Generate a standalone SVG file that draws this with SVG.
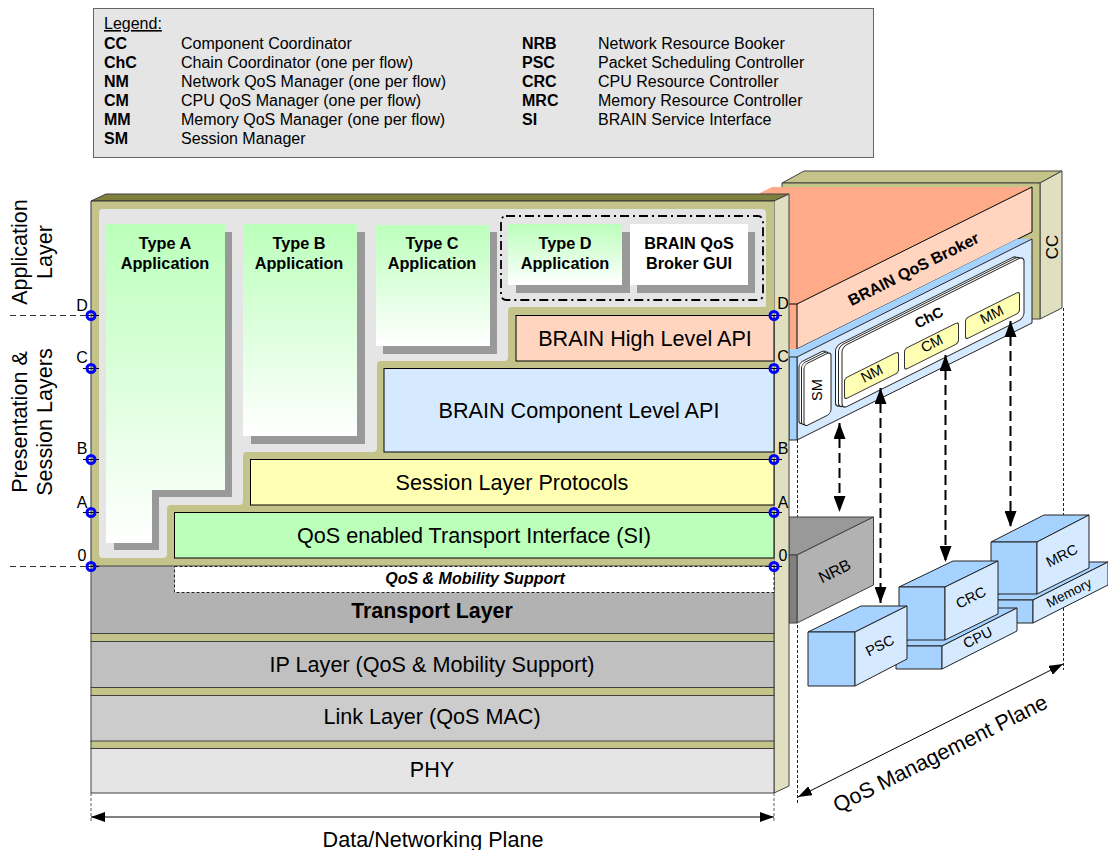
<svg xmlns="http://www.w3.org/2000/svg" width="1108" height="850" viewBox="0 0 1108 850">
<style>
text{font-family:"Liberation Sans",Arial,sans-serif;fill:#000;text-anchor:middle}
.l{text-anchor:start;font-size:16px}
.b{font-weight:bold}
.big{font-size:21.6px}
.ap{font-size:16.3px;font-weight:bold}
.s{font-size:14.5px}
.k{stroke:#000;stroke-width:1}
.g{stroke:#404040;stroke-width:1}
.ol{fill:#c4c48a}
.bl{fill:#a6d2ff;stroke:#222;stroke-width:1}
.bf{fill:#d6eaff;stroke:#222;stroke-width:1}
.sh{fill:#999}
.pt{fill:none;stroke:#00f;stroke-width:3}
.dash{fill:none;stroke:#000;stroke-width:2;stroke-dasharray:10 5}
.dot{fill:none;stroke:#222;stroke-width:1;stroke-dasharray:3 2}
.gd{fill:none;stroke:#777;stroke-width:1.2;stroke-dasharray:3 2}
.pill{fill:#ffffb3;stroke:#333;stroke-width:1}
.card{fill:#fff;stroke:#222;stroke-width:1}
</style>
<defs>
<linearGradient id="gA" x1="0" y1="0" x2="0" y2="1"><stop offset="0" stop-color="#bbffbb"/><stop offset="1" stop-color="#fff"/></linearGradient>
<marker id="hd" markerUnits="userSpaceOnUse" viewBox="0 0 16 12" refX="16" refY="6" markerWidth="16" markerHeight="12" orient="auto-start-reverse"><path d="M0 0L16 6L0 12z" fill="#000"/></marker>
<marker id="hs" markerUnits="userSpaceOnUse" viewBox="0 0 14 10" refX="14" refY="5" markerWidth="14" markerHeight="10" orient="auto-start-reverse"><path d="M0 0L14 5L0 10z" fill="#000"/></marker>
</defs>

<g id="legend">
<rect x="93.500" y="8.500" width="780" height="149" fill="#e5e5e5" stroke="#666"/>
<text class="l" x="104" y="29" text-decoration="underline">Legend:</text>
<text class="l b" x="104" y="49">CC</text><text class="l" x="181" y="49">Component Coordinator</text>
<text class="l b" x="104" y="68">ChC</text><text class="l" x="181" y="68">Chain Coordinator (one per flow)</text>
<text class="l b" x="104" y="87">NM</text><text class="l" x="181" y="87">Network QoS Manager (one per flow)</text>
<text class="l b" x="104" y="106">CM</text><text class="l" x="181" y="106">CPU QoS Manager (one per flow)</text>
<text class="l b" x="104" y="125">MM</text><text class="l" x="181" y="125">Memory QoS Manager (one per flow)</text>
<text class="l b" x="104" y="144">SM</text><text class="l" x="181" y="144">Session Manager</text>
<text class="l b" x="522" y="49">NRB</text><text class="l" x="598" y="49">Network Resource Booker</text>
<text class="l b" x="522" y="68">PSC</text><text class="l" x="598" y="68">Packet Scheduling Controller</text>
<text class="l b" x="522" y="87">CRC</text><text class="l" x="598" y="87">CPU Resource Controller</text>
<text class="l b" x="522" y="106">MRC</text><text class="l" x="598" y="106">Memory Resource Controller</text>
<text class="l b" x="522" y="125">SI</text><text class="l" x="598" y="125">BRAIN Service Interface</text>
</g>

<g id="guides">
<path class="dot" d="M797.500 440V803M1063.500 308V670"/>
</g>

<g id="cc">
<polygon class="g" points="782,183 804,171 1062,171 1040,183" fill="#c4c48a"/>
<polygon class="g" points="1040,183 1062,171 1062,308 1040,319" fill="#e0e0c0"/>
<polygon class="g ol" points="782,183 1040,183 1040,319 1030,319 1030,240 1010,240 1010,190 782,190"/>
<text transform="translate(1058,247) rotate(-90)" style="font-size:17px">CC</text>
</g>

<g id="broker">
<polygon points="760,193 772,187 1032,187 797,304 797,349 760,349" fill="#ffaa88"/>
<polygon class="k" points="797,304 1032,187 1032,232 797,349" fill="#ffd5c0"/>
<path class="k" d="M789 304H797" fill="none"/>
<text class="b" transform="translate(916,274) rotate(-26.57)" style="font-size:16px">BRAIN QoS Broker</text>
</g>

<g id="component-plane">
<polygon points="789,349 797,349 1017,239 1032,239 797,357 789,357" fill="#a6d2ff"/>
<polygon class="bf" points="797,357 1032,239 1032,323 797,440"/>
<polygon class="bl" points="789,357 797,357 797,440 789,440"/>
</g>

<g id="sm">
<rect class="card" transform="matrix(1,-0.5,0,1,799,363)" width="27" height="62" rx="4"/>
<rect class="card" transform="matrix(1,-0.5,0,1,801.500,364)" width="27" height="62" rx="4"/>
<rect class="card" transform="matrix(1,-0.5,0,1,804,365)" width="27" height="62" rx="4"/>
<text class="s" transform="translate(822,390) rotate(-90)">SM</text>
</g>

<g id="chc">
<rect class="card" transform="matrix(1,-0.5,0,1,835.500,346)" width="182" height="62" rx="5"/>
<rect class="card" transform="matrix(1,-0.5,0,1,838.500,346.500)" width="182" height="62" rx="5"/>
<rect class="card" transform="matrix(1,-0.5,0,1,842,347)" width="182" height="62" rx="5"/>
<text class="s b" transform="translate(931,322) rotate(-26.57)">ChC</text>
</g>
<g id="nm"><rect class="pill" transform="matrix(1,-0.5,0,1,844.500,378.500)" width="54" height="21" rx="3"/><text class="s" transform="translate(874,378) rotate(-26.57)">NM</text></g>
<g id="cm"><rect class="pill" transform="matrix(1,-0.5,0,1,904.500,349)" width="54" height="21" rx="3"/><text class="s" transform="translate(934,348) rotate(-26.57)">CM</text></g>
<g id="mm"><rect class="pill" transform="matrix(1,-0.5,0,1,965.500,318.500)" width="54" height="21" rx="3"/><text class="s" transform="translate(994,319) rotate(-26.57)">MM</text></g>

<g id="nrb">
<polygon class="g" points="789,517 873.500,517 797,555 789,555" fill="#999"/>
<polygon class="g" points="797,555 873.500,517 873.500,585 797,623" fill="#b2b2b2"/>
<polygon class="g" points="789,555 797,555 797,623 789,623" fill="#808080"/>
<text transform="translate(837,576) rotate(-26.57)" style="font-size:16px">NRB</text>
</g>

<g id="memory">
<polygon class="bl" points="987,600 1033,600 1108,562 1062,562"/>
<polygon class="bl" points="987,600 1033,600 1033,623 987,623"/>
<polygon class="bf" points="1033,600 1108,562 1108,585 1033,623"/>
<text transform="translate(1071,597) rotate(-26.57)" style="font-size:13.500px">Memory</text>
</g>
<g id="mrc">
<polygon class="bl" points="991,542 1037,542 1089,515 1044,515"/>
<polygon class="bl" points="991,542 1037,542 1037,594 991,594"/>
<polygon class="bf" points="1037,542 1089,515 1089,568 1037,594"/>
<text class="s" transform="translate(1064,560) rotate(-26.57)">MRC</text>
</g>
<g id="cpu">
<polygon class="bl" points="896,646 942,646 1017,608 971,608"/>
<polygon class="bl" points="896,646 942,646 942,669 896,669"/>
<polygon class="bf" points="942,646 1017,608 1017,631 942,669"/>
<text class="s" transform="translate(980,642) rotate(-26.57)">CPU</text>
</g>
<g id="crc">
<polygon class="bl" points="899,587 945,587 998,561 953,561"/>
<polygon class="bl" points="899,587 945,587 945,640 899,640"/>
<polygon class="bf" points="945,587 998,561 998,614 945,640"/>
<text class="s" transform="translate(973,602) rotate(-26.57)">CRC</text>
</g>
<g id="psc">
<polygon class="bl" points="808,632 855,632 907,606 861,606"/>
<polygon class="bl" points="808,632 855,632 855,686 808,686"/>
<polygon class="bf" points="855,632 907,606 907,659 855,686"/>
<text class="s" transform="translate(882,650) rotate(-26.57)">PSC</text>
</g>

<g id="data-plane">
<polygon class="g" points="91,201 106,194 789,194 774,201" fill="#7f7f3f"/>
<polygon class="g" points="774,201 789,194 789,786 774,793" fill="#e0e0c0"/>
<rect class="ol" x="91" y="201" width="683" height="365"/>
<path d="M103 209H762a4 4 0 0 1 4 4V307H512a4 4 0 0 0-4 4V357a4 4 0 0 1-4 4H381a4 4 0 0 0-4 4V448a4 4 0 0 1-4 4H247a4 4 0 0 0-4 4V501a4 4 0 0 1-4 4H171a4 4 0 0 0-4 4V554a4 4 0 0 1-4 4H103a4 4 0 0 1-4-4V213a4 4 0 0 1 4-4z" fill="#e5e5e5"/>
<path d="M91 566V201H774" fill="none" stroke="#333"/>
</g>

<g id="type-a">
<polygon class="sh" points="114,232 232,232 232,497 159,497 159,550 114,550"/>
<polygon fill="url(#gA)" points="106,224 225,224 225,490 152,490 152,543 106,543"/>
<text class="ap" x="165" y="249">Type A</text><text class="ap" x="165" y="269">Application</text>
</g>
<g id="type-b">
<rect class="sh" x="251" y="232" width="114" height="212"/>
<rect fill="url(#gA)" x="243" y="224" width="114" height="212"/>
<text class="ap" x="299" y="249">Type B</text><text class="ap" x="299" y="269">Application</text>
</g>
<g id="type-c">
<rect class="sh" x="383" y="232" width="114" height="122"/>
<rect fill="url(#gA)" x="376" y="225" width="114" height="121"/>
<text class="ap" x="432" y="249">Type C</text><text class="ap" x="432" y="269">Application</text>
</g>
<g id="type-d">
<rect class="sh" x="516" y="232" width="114" height="61"/>
<rect fill="url(#gA)" x="508" y="224" width="114" height="61"/>
<text class="ap" x="565" y="249">Type D</text><text class="ap" x="565" y="269">Application</text>
</g>
<g id="gui">
<rect class="sh" x="637" y="232" width="118" height="61"/>
<rect fill="#fff" x="630" y="224" width="118" height="61"/>
<text class="ap" x="689" y="249">BRAIN QoS</text><text class="ap" x="689" y="269">Broker GUI</text>
</g>
<rect id="user-box" x="501" y="216" width="262" height="84" rx="5" fill="none" stroke="#000" stroke-width="1.800" stroke-dasharray="9 4 2 4"/>

<g id="high-api"><rect class="k" x="516" y="315.500" width="258" height="45.500" fill="#ffd5c0"/><text class="big" x="645" y="346">BRAIN High Level API</text></g>
<g id="component-api"><rect class="k" x="384" y="368.500" width="390" height="83.500" fill="#d6eaff"/><text class="big" x="579" y="418">BRAIN Component Level API</text></g>
<g id="session"><rect class="k" x="250.500" y="459.500" width="523.500" height="45.500" fill="#ffffb3"/><text class="big" x="512" y="490">Session Layer Protocols</text></g>
<g id="si"><rect class="k" x="174.500" y="512.500" width="599.500" height="45.500" fill="#bbffbb"/><text class="big" x="474" y="543">QoS enabled Transport Interface (SI)</text></g>

<g id="transport">
<rect class="g" x="91" y="566" width="683" height="67.500" fill="#b2b2b2"/>
<rect x="174.500" y="566.500" width="599.500" height="26" fill="#fff" stroke="#222" stroke-dasharray="3 2"/>
<text class="b" x="475" y="584" style="font-size:16px;font-style:italic">QoS &amp; Mobility Support</text>
<text class="b" x="432" y="618" style="font-size:21.4px">Transport Layer</text>
</g>
<rect class="g ol" x="91" y="633.500" width="683" height="8"/>
<g id="ip"><rect class="g" x="91" y="641.500" width="683" height="46" fill="#c0c0c0"/><text class="big" x="432" y="672">IP Layer (QoS &amp; Mobility Support)</text></g>
<rect class="g ol" x="91" y="687.500" width="683" height="8"/>
<g id="link"><rect class="g" x="91" y="695.500" width="683" height="46" fill="#ccc"/><text class="big" x="432" y="724">Link Layer (QoS MAC)</text></g>
<rect class="g ol" x="91" y="741" width="683" height="7.500"/>
<g id="phy"><rect class="g" x="91" y="748.500" width="683" height="44.500" fill="#e5e5e5"/><text class="big" x="432" y="777">PHY</text></g>

<g id="markers">
<path class="k" d="M83 315.500H99M83 368.500H99M83 459.500H99M83 512.500H99M83 566.500H99M766 315.500H782M766 368.500H782M766 459.500H782M766 512.500H782M766 566.500H782" fill="none"/>
<circle class="pt" cx="91" cy="315.500" r="4"/><circle class="pt" cx="91" cy="368.500" r="4"/><circle class="pt" cx="91" cy="459.500" r="4"/><circle class="pt" cx="91" cy="512.500" r="4"/><circle class="pt" cx="91" cy="566.500" r="4"/>
<circle class="pt" cx="774" cy="315.500" r="4"/><circle class="pt" cx="774" cy="368.500" r="4"/><circle class="pt" cx="774" cy="459.500" r="4"/><circle class="pt" cx="774" cy="512.500" r="4"/><circle class="pt" cx="774" cy="566.500" r="4"/>
<g style="font-size:16px">
<text x="82" y="311">D</text><text x="82" y="363">C</text><text x="82" y="454">B</text><text x="82" y="508">A</text><text x="82" y="561">0</text>
<text x="783" y="309">D</text><text x="783" y="362">C</text><text x="783" y="454">B</text><text x="783" y="508">A</text><text x="783" y="561">0</text>
</g>
</g>

<g id="labels">
<text transform="translate(27,252) rotate(-90)" style="font-size:21.6px">Application</text>
<text transform="translate(52,252) rotate(-90)" style="font-size:21.6px">Layer</text>
<text transform="translate(27,422) rotate(-90)" style="font-size:21.6px">Presentation &amp;</text>
<text transform="translate(52,422) rotate(-90)" style="font-size:21.6px">Session Layers</text>
<text x="433" y="847" style="font-size:21.6px">Data/Networking Plane</text>
<text transform="translate(943.500,760) rotate(-26.57)" style="font-size:21.6px">QoS Management Plane</text>
</g>

<g id="connectors">
<path class="dash" d="M839.500 423V512" marker-start="url(#hd)" marker-end="url(#hd)"/>
<path class="dash" d="M880.500 388V603" marker-start="url(#hd)" marker-end="url(#hd)"/>
<path class="dash" d="M945.500 355V562" marker-start="url(#hd)" marker-end="url(#hd)"/>
<path class="dash" d="M1010.500 321V527" marker-start="url(#hd)" marker-end="url(#hd)"/>
<path d="M798 797L1063 664" fill="none" stroke="#000" stroke-width="1" marker-start="url(#hs)" marker-end="url(#hs)"/>
<path class="gd" d="M91 793V822M774 793V822"/>
<path d="M91 817H774" fill="none" stroke="#000" stroke-width="1" marker-start="url(#hs)" marker-end="url(#hs)"/>
<path d="M10 315.500H91M10 566.500H91" fill="none" stroke="#333" stroke-dasharray="6 4"/>
</g>
</svg>
